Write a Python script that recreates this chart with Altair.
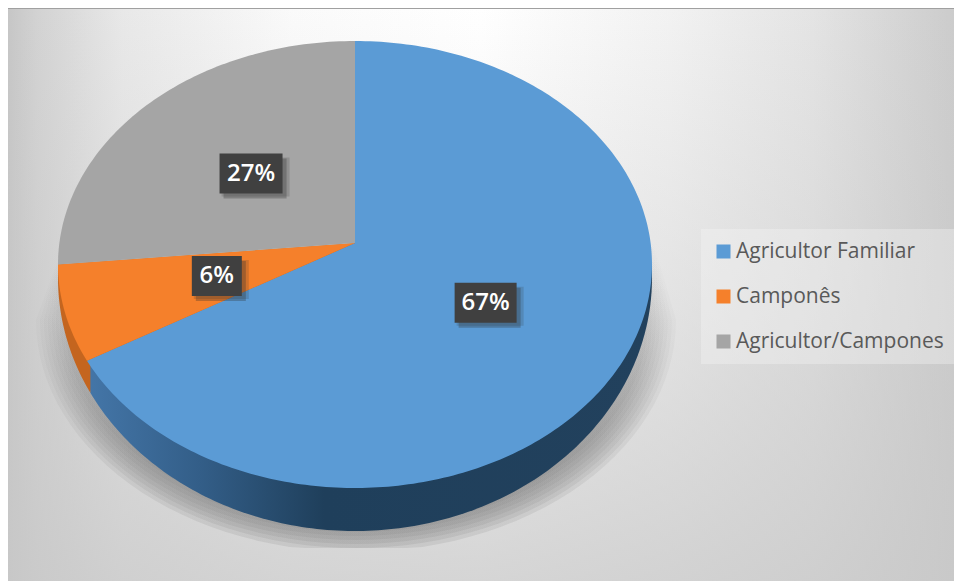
import math
import altair as alt
import pandas as pd

# ---- values
categories = ["Agricultor Familiar", "Camponês", "Agricultor/Campones"]
shares = [67, 6, 27]
share_labels = ["67%", "6%", "27%"]
colors = ["#5b9bd5", "#f5802b", "#a5a5a5"]
side_colors = ["#2a4f73", "#c4651f"]
# sweep each slice takes on the tilted disc (perspective widens/narrows the 3-D angles)
visible_sweep = [244.5, 25.5, 90.0]
label_radial_x = [0.52, 0.477, 0.495]
label_radial_y = [0.50, 0.67, 0.44]
label_box_w = [62, 50, 63]

# ---- picture geometry, expressed in disc units
W, H = 946, 573
CX, CY, A, B = 355.0, 264.5, 297.0, 223.5     # top ellipse (page px)
APEX_V = 0.096
LOW_CY, LOW_B = 278.0, 253.0                  # lower rim ellipse


def u_of(px):
    return (px - CX) / A


def v_of(py):
    return (CY - py) / B


x_scale = alt.Scale(domain=[u_of(8), u_of(954)], nice=False, zero=False)
y_scale = alt.Scale(domain=[v_of(581), v_of(8)], nice=False, zero=False)


def rim(t_deg):
    t = math.radians(t_deg)
    return math.sin(t), math.cos(t)


top_rows = []
start = 0.0
for c, sweep in zip(categories, visible_sweep):
    pts = [(0.0, APEX_V)]
    n = int(sweep) + 1
    pts += [rim(start + sweep * k / n) for k in range(n + 1)]
    pts.append((0.0, APEX_V))
    top_rows += [{"cat": c, "i": i, "u": p[0], "v": p[1]} for i, p in enumerate(pts)]
    start += sweep


def side_poly(t0, t1, end_top):
    n = int(abs(t1 - t0)) + 1
    pts = [(math.sin(math.radians(t0)), rim(t0)[1])]
    for k in range(n + 1):
        t = t0 + (t1 - t0) * k / n
        pts.append((math.sin(math.radians(t)), v_of(LOW_CY - LOW_B * math.cos(math.radians(t)))))
    pts.append(end_top)
    pts.append((0.0, APEX_V))
    return pts


blue_side = side_poly(90, 243, rim(244.5))
orange_side = side_poly(243, 272, rim(270))


def frame(pts):
    return pd.DataFrame([{"i": i, "u": p[0], "v": p[1]} for i, p in enumerate(pts)])


def shadow_pts(grow):
    pts = [(u_of(652 + grow * 0.2), v_of(240))]
    for k in range(0, 181, 3):
        t = math.radians(k)
        pts.append((u_of(356 + (316 + grow) * math.cos(t)),
                    v_of(min(320 + (228 + grow) * math.sin(t), 548))))
    pts.append((u_of(58 - grow * 0.2), v_of(262)))
    return pts


def poly(pts, **kw):
    return alt.Chart(frame(pts)).mark_line(strokeWidth=0, **kw).encode(
        x=alt.X("u:Q", scale=x_scale, axis=None),
        y=alt.Y("v:Q", scale=y_scale, axis=None),
        order="i:Q",
    )


one = pd.DataFrame({"a": [0]})
bg = alt.Chart(one).mark_rect(
    fill=alt.Gradient(
        gradient="linear", x1=0, y1=0, x2=1, y2=0,
        stops=[
            alt.GradientStop(offset=0.0, color="#c6c6c6"),
            alt.GradientStop(offset=0.03, color="#d2d2d2"),
            alt.GradientStop(offset=0.12, color="#e8e8e8"),
            alt.GradientStop(offset=0.30, color="#fafafa"),
            alt.GradientStop(offset=0.50, color="#ffffff"),
            alt.GradientStop(offset=0.70, color="#f2f2f2"),
            alt.GradientStop(offset=0.85, color="#e4e4e4"),
            alt.GradientStop(offset=1.0, color="#cccccc"),
        ],
    )
).encode(x=alt.value(0), x2=alt.value(W), y=alt.value(0), y2=alt.value(H))

bg_v = alt.Chart(one).mark_rect(
    fill=alt.Gradient(
        gradient="linear", x1=0, y1=0, x2=0, y2=1,
        stops=[
            alt.GradientStop(offset=0.0, color="rgba(200,200,200,0)"),
            alt.GradientStop(offset=0.5, color="rgba(200,200,200,0.35)"),
            alt.GradientStop(offset=1.0, color="rgba(200,200,200,0.76)"),
        ],
    )
).encode(x=alt.value(0), x2=alt.value(W), y=alt.value(0), y2=alt.value(H))

top_line = alt.Chart(one).mark_rule(color="#a0a0a0", strokeWidth=2).encode(
    x=alt.value(0), x2=alt.value(W), y=alt.value(0)
)

shadow_fill = alt.Gradient(
    gradient="linear", x1=0, y1=0, x2=0, y2=1,
    stops=[
        alt.GradientStop(offset=0.0, color="rgba(125,125,125,0)"),
        alt.GradientStop(offset=0.35, color="rgba(125,125,125,0.06)"),
        alt.GradientStop(offset=0.7, color="rgba(125,125,125,0.12)"),
        alt.GradientStop(offset=1.0, color="rgba(125,125,125,0.17)"),
    ],
)
shadows = [poly(shadow_pts(g), fill=shadow_fill) for g in (4, 0, -4, -8, -12, -16, -20, -24)]

blue_side_chart = poly(
    blue_side,
    fill=alt.Gradient(
        gradient="linear", x1=0, y1=0, x2=1, y2=0,
        stops=[
            alt.GradientStop(offset=0.0, color="#4476a8"),
            alt.GradientStop(offset=0.2, color="#335e88"),
            alt.GradientStop(offset=0.42, color="#1f3f5b"),
            alt.GradientStop(offset=1.0, color="#22415d"),
        ],
    ),
)
orange_side_chart = poly(orange_side, fill=side_colors[1])

top = alt.Chart(pd.DataFrame(top_rows)).mark_line(strokeWidth=0).encode(
    x=alt.X("u:Q", scale=x_scale, axis=None),
    y=alt.Y("v:Q", scale=y_scale, axis=None),
    order="i:Q",
    detail="cat:N",
    fill=alt.Fill(
        "cat:N",
        scale=alt.Scale(domain=categories, range=colors),
        legend=alt.Legend(
            title=None,
            orient="none",
            legendX=693,
            legendY=221,
            symbolType="square",
            symbolSize=196,
            symbolStrokeWidth=0,
            labelFont="Open Sans",
            labelFontSize=21,
            labelColor="#595959",
            labelLimit=260,
            rowPadding=23,
            fillColor="rgba(246,246,246,0.35)",
            padding=12,
            labelOffset=2,
        ),
    ),
)

# labels sit at each slice's mid-sweep
lab_rows = []
start = 0.0
for lab, sweep, rx, ry, bw in zip(share_labels, visible_sweep, label_radial_x, label_radial_y, label_box_w):
    mid = math.radians(start + sweep / 2)
    u = rx * math.sin(mid)
    v = APEX_V + ry * math.cos(mid)
    lab_rows.append({
        "lab": lab, "u": u, "v": v,
        "u0": u - bw / 2 / A, "u1": u + bw / 2 / A,
        "v0": v - 20 / B, "v1": v + 20 / B,
        "su0": u - bw / 2 / A + 4 / A, "su1": u + bw / 2 / A + 4 / A,
        "sv0": v - 25 / B, "sv1": v + 15 / B,
        "tu0": u - bw / 2 / A + 2 / A, "tu1": u + bw / 2 / A + 7 / A,
        "tv0": v - 23 / B, "tv1": v + 16 / B,
    })
    start += sweep
lab_df = pd.DataFrame(lab_rows)

box_shadow2 = alt.Chart(lab_df).mark_rect(fill="#303030", opacity=0.18).encode(
    x=alt.X("tu0:Q", scale=x_scale, axis=None), x2="tu1:Q",
    y=alt.Y("tv0:Q", scale=y_scale, axis=None), y2="tv1:Q",
)
box_shadow = alt.Chart(lab_df).mark_rect(fill="#303030", opacity=0.3).encode(
    x=alt.X("su0:Q", scale=x_scale, axis=None), x2="su1:Q",
    y=alt.Y("sv0:Q", scale=y_scale, axis=None), y2="sv1:Q",
)
box = alt.Chart(lab_df).mark_rect(fill="#404040").encode(
    x=alt.X("u0:Q", scale=x_scale, axis=None), x2="u1:Q",
    y=alt.Y("v0:Q", scale=y_scale, axis=None), y2="v1:Q",
)
text = alt.Chart(lab_df).mark_text(
    font="Open Sans", fontSize=24, fontWeight=600, color="#ffffff", align="center", baseline="middle"
).encode(
    x=alt.X("u:Q", scale=x_scale, axis=None),
    y=alt.Y("v:Q", scale=y_scale, axis=None),
    text="lab:N",
)

chart = alt.layer(
    bg, bg_v, top_line, *shadows, blue_side_chart, orange_side_chart, top,
    box_shadow2, box_shadow, box, text
).properties(
    width=W, height=H, padding=0, autosize=alt.AutoSizeParams(type="none", contains="padding")
).configure_view(stroke=None).resolve_scale(x="shared", y="shared")

chart.save("out.html", embed_options={"renderer": "svg", "actions": False})
